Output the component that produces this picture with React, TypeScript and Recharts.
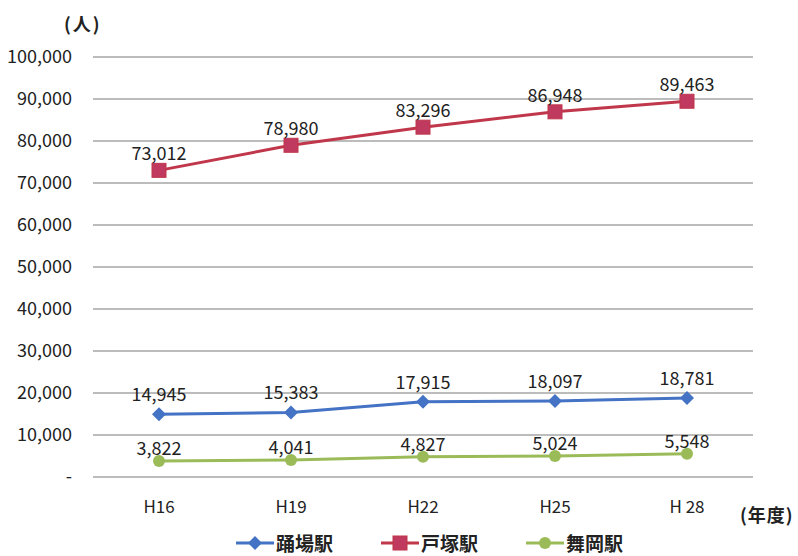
import { LineChart, Line, XAxis, YAxis, CartesianGrid, LabelList } from 'recharts'

const years = ['H16', 'H19', 'H22', 'H25', 'H 28']
const odoriba = [14945, 15383, 17915, 18097, 18781]
const totsuka = [73012, 78980, 83296, 86948, 89463]
const maioka = [3822, 4041, 4827, 5024, 5548]
const yTicks = [0, 10000, 20000, 30000, 40000, 50000, 60000, 70000, 80000, 90000, 100000]

const FONT = '"Noto Sans CJK JP", "Noto Sans", sans-serif'

const SERIES = [
    { key: 'odoriba', name: '踊場駅', color: '#4472C4', marker: 'diamond', offset: 13 },
    { key: 'totsuka', name: '戸塚駅', color: '#C0374B', marker: 'square', offset: 10 },
    { key: 'maioka', name: '舞岡駅', color: '#9BBB59', marker: 'circle', offset: 6 },
]

const data = years.map((year, i) => ({
    year,
    odoriba: odoriba[i],
    totsuka: totsuka[i],
    maioka: maioka[i],
}))

function Marker({ shape, color, cx, cy }: { shape: string; color: string; cx: number; cy: number }) {
    if (shape === 'diamond') {
        const r = 7
        return <path d={`M${cx},${cy - r}L${cx + r},${cy}L${cx},${cy + r}L${cx - r},${cy}Z`} fill={color} />
    }
    if (shape === 'square') {
        return <rect x={cx - 7} y={cy - 7} width={14} height={14} fill="#C0395F" stroke={color} strokeWidth={1} />
    }
    return <circle cx={cx} cy={cy} r={6} fill={color} />
}

const fmt = (v: number) => (v === 0 ? '-' : v.toLocaleString('en-US'))

export default function App() {
    return (
        <div style={{ position: 'absolute', left: 0, top: 0, width: 798, height: 556, background: '#fff', fontFamily: FONT }}>
            <LineChart width={798} height={556} data={data} margin={{ top: 57, right: 45, bottom: 0, left: 0 }}>
                <CartesianGrid vertical={false} stroke="#A6A6A6" strokeWidth={1.5} />
                <XAxis
                    dataKey="year"
                    height={79}
                    padding={{ left: 66, right: 66 }}
                    axisLine={false}
                    tickLine={false}
                    tickSize={0}
                    tickMargin={24}
                    tick={{ fill: '#222', fontSize: 17, fontFamily: FONT }}
                />
                <YAxis
                    width={93}
                    domain={[0, 100000]}
                    ticks={yTicks}
                    axisLine={false}
                    tickLine={false}
                    tickSize={0}
                    tickMargin={21}
                    tickFormatter={fmt}
                    tick={{ fill: '#222', fontSize: 18, fontFamily: FONT }}
                />
                {SERIES.map((s) => (
                    <Line
                        key={s.key}
                        dataKey={s.key}
                        name={s.name}
                        stroke={s.color}
                        strokeWidth={3}
                        isAnimationActive={false}
                        dot={(p: any) => <Marker key={p.index} shape={s.marker} color={s.color} cx={p.cx} cy={p.cy} />}
                        activeDot={false}
                    >
                        <LabelList
                            dataKey={s.key}
                            position="top"
                            offset={s.offset}
                            formatter={(v: any) => Number(v).toLocaleString('en-US')}
                            style={{ fill: '#222', fontSize: 18, fontFamily: FONT }}
                        />
                    </Line>
                ))}
            </LineChart>
            <div style={{ position: 'absolute', left: 64, top: 10, fontSize: 18, color: '#222', fontWeight: 600, whiteSpace: 'nowrap', letterSpacing: 2 }}>(人)</div>
            <div style={{ position: 'absolute', left: 740, top: 501, fontSize: 18, color: '#222', fontWeight: 600, whiteSpace: 'nowrap', letterSpacing: 1 }}>(年度)</div>
            <div style={{ position: 'absolute', left: 236, top: 531, display: 'flex', gap: 0 }}>
                {SERIES.map((s, i) => (
                    <div key={s.key} style={{ display: 'flex', alignItems: 'center', width: i < 2 ? 145 : 130 }}>
                        <svg width={38} height={16}>
                            <line x1={0} y1={8} x2={38} y2={8} stroke={s.color} strokeWidth={3} />
                            <Marker shape={s.marker} color={s.color} cx={19} cy={8} />
                        </svg>
                        <span style={{ fontSize: 19, color: '#222', fontWeight: 600, marginLeft: 2, lineHeight: '24px' }}>{s.name}</span>
                    </div>
                ))}
            </div>
        </div>
    )
}
